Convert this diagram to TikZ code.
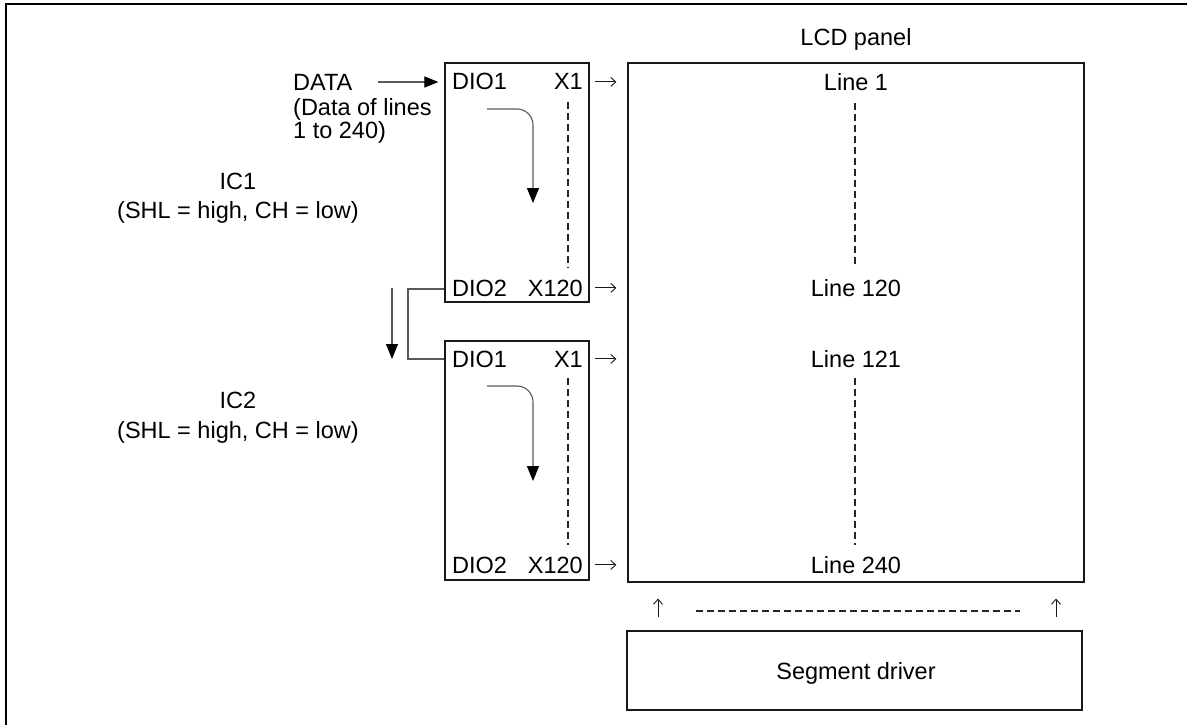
\documentclass[tikz,border=0pt]{standalone}
\usepackage{fontspec}
\setmainfont{Liberation Sans}
\usetikzlibrary{arrows.meta,calc}
\begin{document}
\begin{tikzpicture}[x=1pt,y=-1pt,
  txt/.style={inner sep=0pt,font=\fontsize{23.5}{26}\selectfont},
  boxed/.style={draw=black!90,line width=1.2pt,inner sep=0pt},
  conn/.style={draw=black!65,line width=1.1pt},
  dotline/.style={draw=black!85,line width=1.4pt,dash pattern=on 7pt off 4pt},
  bigtip/.style={-{Triangle[width=12pt,length=15pt,black]}},
  smalltip/.style={-{Triangle[width=11pt,length=14pt,black]}},
  thinarr/.style={draw=black!90,line width=0.9pt,-{Straight Barb[length=5pt,width=9pt]}},
]
\useasboundingbox (0,0) rectangle (1187,725);
% frame
\draw[line width=1.6pt] (6,725) -- (6,4) -- (1187,4);

% boxes
\node[boxed,minimum width=144pt,minimum height=239pt] (ic1) at (517,182.5) {};
\node[boxed,minimum width=144pt,minimum height=239pt] (ic2) at (517,460.5) {};
\node[boxed,minimum width=456pt,minimum height=519pt] (lcd) at (856,322.5) {};
\node[boxed,minimum width=455pt,minimum height=79pt] (seg) at (854.5,670.5) {};

% texts
\node[txt,anchor=base] (lcdt) at (856,46) {LCD panel};
\node[txt,anchor=base] (segt) at (856,679) {Segment driver};

\node[txt,anchor=base west] (data) at (293,91) {DATA};
\node[txt,anchor=base west] (data2) at (293,115) {(Data of lines};
\node[txt,anchor=base west] (data3) at (293,138) {1 to 240)};

\node[txt,anchor=base] (ic1t) at (238,189) {IC1};
\node[txt,anchor=base] (ic1s) at (238,218) {(SHL = high, CH = low)};
\node[txt,anchor=base] (ic2t) at (238,408) {IC2};
\node[txt,anchor=base] (ic2s) at (238,438) {(SHL = high, CH = low)};

% IC1 pins
\node[txt,anchor=base west] (d1a) at (452,90) {DIO1};
\node[txt,anchor=base east] (x1a) at (583,90) {X1};
\node[txt,anchor=base west] (d2a) at (452,296) {DIO2};
\node[txt,anchor=base east] (x120a) at (583,296) {X120};
% IC2 pins
\node[txt,anchor=base west] (d1b) at (452,367) {DIO1};
\node[txt,anchor=base east] (x1b) at (583,367) {X1};
\node[txt,anchor=base west] (d2b) at (452,573) {DIO2};
\node[txt,anchor=base east] (x120b) at (583,573) {X120};

% LCD lines
\node[txt,anchor=base] (l1) at (856,91) {Line 1};
\node[txt,anchor=base] (l120) at (856,296) {Line 120};
\node[txt,anchor=base] (l121) at (856,367) {Line 121};
\node[txt,anchor=base] (l240) at (856,573) {Line 240};

% output arrows chip -> panel
\foreach \p/\c in {x1a/ic1,x120a/ic1,x1b/ic2,x120b/ic2}
  \draw[thinarr] ([xshift=5pt]\c.east |- \p.center) -- ([xshift=-11pt]lcd.west |- \p.center);
% segment driver -> panel
\coordinate (ua1) at (658,0);
\coordinate (ua2) at (1056,0);
\draw[thinarr] ([yshift=13pt]seg.north -| ua1) -- ([yshift=-16pt]lcd.south -| ua1);
\draw[thinarr] ([yshift=13pt]seg.north -| ua2) -- ([yshift=-16pt]lcd.south -| ua2);

% dashed lines
\draw[dotline] (568,102) coordinate (da1) -- (568,268) coordinate (da2);
\draw[dotline] (568,378) coordinate (db1) -- (568,545) coordinate (db2);
\draw[dotline] (855,103) coordinate (la1) -- (855,265) coordinate (la2);
\draw[dotline] (855,378) coordinate (lb1) -- (855,545) coordinate (lb2);
\draw[dotline] (696,611) coordinate (hd1) -- (1020,611) coordinate (hd2);

% DATA arrow
\coordinate (dstart) at (378,82);
\draw[conn,smalltip] (dstart) -- ($(dstart -| ic1.west)+(-6,0)$);
% data flow arrows inside chips
\draw[conn,bigtip,rounded corners=16pt] (487,109) -- (533,109) -- (533,203);
\draw[conn,bigtip,rounded corners=16pt] (487,386) -- (533,386) -- (533,481);
% cascade connection
\draw[conn] (ic1.west |- 0,289) -- (408,289) |- (ic2.west |- 0,359);
\draw[conn,bigtip] (392,288) -- (392,359);
\end{tikzpicture}
\end{document}
